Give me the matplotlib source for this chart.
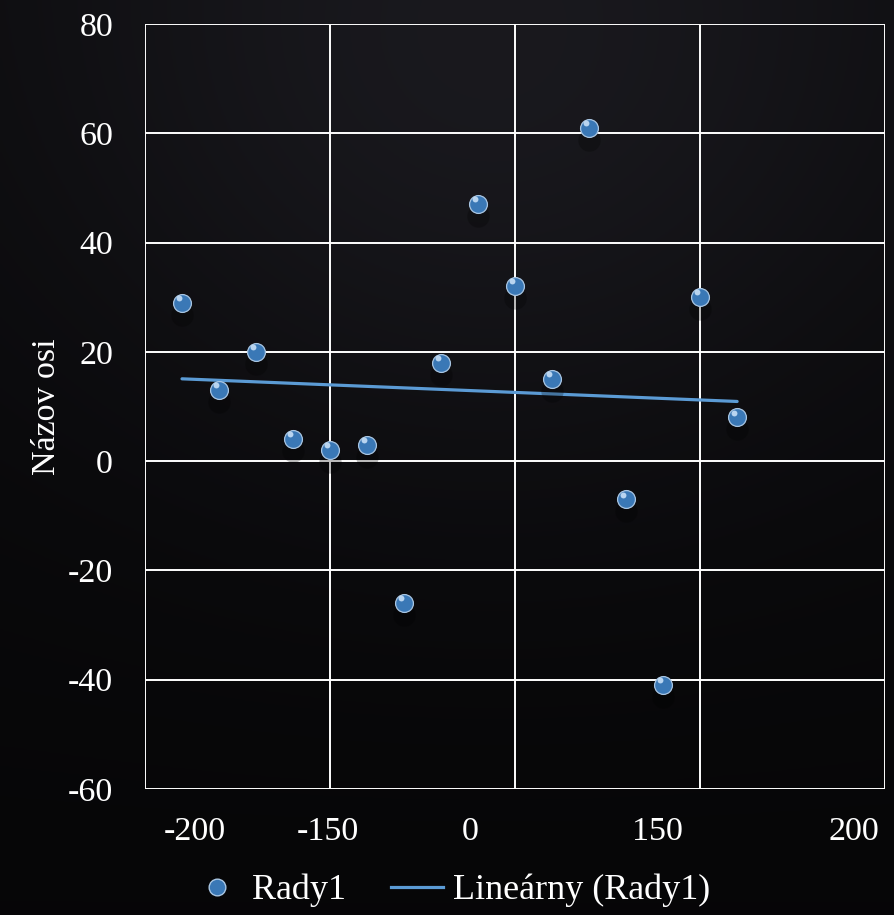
import numpy as np
import matplotlib
matplotlib.use("Agg")
import matplotlib.pyplot as plt
from matplotlib.lines import Line2D

# Data
x_vals = [-180, -160, -140, -120, -100, -80, -60, -40, -20, 0, 20, 40, 60, 80, 100, 120]
y_vals = [29, 13, 20, 4, 2, 3, -26, 18, 47, 32, 15, 61, -7, -41, 30, 8]

# odd tick labels as they appear on the original x axis
xtick_pos = [-173, -101, -24, 77, 183]
xtick_labels = ["-200", "-150", "0", "150", "200"]
grid_x = [-200, -100, 0, 100, 200]
yticks = [-60, -40, -20, 0, 20, 40, 60, 80]

series_name = "Rady1"
trend_name = "Lineárny (Rady1)"
y_title = "Názov osi"

plt.rcParams["font.family"] = ["Liberation Serif", "DejaVu Serif"]
plt.rcParams["axes.unicode_minus"] = False

fig = plt.figure(figsize=(8.95, 9.15), dpi=100)

# dark gradient background
bg = fig.add_axes([0, 0, 1, 1], zorder=-10)
gy, gx = np.mgrid[0:1:300j, 0:1:300j]
radial = np.exp(-((gx - 0.55) ** 2 + (gy - 0.2) ** 2) / 0.25)
shade = 0.025 + 0.07 * radial * (1 - gy) + 0.02 * (1 - gy)
img = np.dstack([shade * 0.95, shade * 0.93, shade * 1.12])
bg.imshow(np.clip(img, 0, 1), aspect="auto", extent=[0, 1, 0, 1])
bg.axis("off")

ax = fig.add_axes([0.162, 0.1377, 0.827, 0.836])
ax.patch.set_alpha(0)
ax.set_xlim(-200, 200)
ax.set_ylim(-60, 80)

for gxv in grid_x:
    ax.axvline(gxv, color="white", lw=1.4, zorder=1)
for gyv in yticks:
    ax.axhline(gyv, color="white", lw=1.4, zorder=1)
for sp in ax.spines.values():
    sp.set_visible(False)

# trend line
coef = np.polyfit(x_vals, y_vals, 1)
xt = np.array([min(x_vals), max(x_vals)])
ax.plot(xt, np.polyval(coef, xt), color="#5b9bd5", lw=2.3, zorder=2,
        solid_capstyle="round")

# sphere-like markers: shadow, body, highlight
ax.scatter(x_vals, np.array(y_vals) - 2.2, s=260, color="black", alpha=0.25,
           linewidths=0, zorder=2)
ax.scatter(x_vals, y_vals, s=165, color="#3a78b6", edgecolors="#a9c6e3",
           linewidths=0.9, zorder=3)
ax.scatter(np.array(x_vals) - 1.5, np.array(y_vals) + 0.9, s=18, color="#d8ecff",
           alpha=0.8, linewidths=0, zorder=4)

ax.set_xticks(xtick_pos)
ax.set_xticklabels(xtick_labels)
ax.set_yticks(yticks)
ax.tick_params(axis="both", length=0, labelsize=24.5, colors="white")
ax.tick_params(axis="y", pad=23)
ax.tick_params(axis="x", pad=20)
ax.set_ylabel(y_title, color="white", fontsize=24.5, labelpad=4)

handles = [
    Line2D([], [], marker="o", ls="none", markersize=12, markerfacecolor="#3a78b6",
           markeredgecolor="#a9c6e3", label=series_name),
    Line2D([], [], color="#5b9bd5", lw=2.3, label=trend_name),
]
leg = fig.legend(handles=handles, loc="lower center", bbox_to_anchor=(0.503, -0.027),
                 ncol=2, frameon=False, fontsize=26, handlelength=1.45,
                 handletextpad=0.25, columnspacing=1.25)
for t in leg.get_texts():
    t.set_color("white")

fig.savefig("out.png", dpi=100, facecolor="#0b0b0f")
